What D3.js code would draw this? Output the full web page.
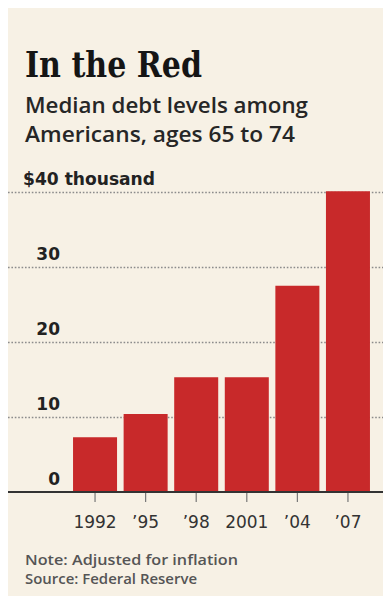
<!DOCTYPE html>
<html>
<head>
<meta charset="utf-8">
<script src="https://cdn.jsdelivr.net/npm/d3@7"></script>
<style>
  body { margin: 0; background: #fff; }
  svg { display: block; }
</style>
</head>
<body>
<div id="chart"></div>
<script>
// Data (thousands of dollars, median debt, ages 65-74)
const years = ["1992", "\u201995", "\u201998", "2001", "\u201904", "\u201907"];
const debt = [7.3, 10.4, 15.3, 15.3, 27.5, 40.1];
const yTicks = [0, 10, 20, 30, 40];
const yTickLabels = ["0", "10", "20", "30", "$40 thousand"];

const width = 383;
const height = 598;

const svg = d3.select("#chart")
    .append("svg")
    .attr("width", width)
    .attr("height", height);

// cream panel
svg.append("rect")
    .attr("x", 8).attr("y", 8)
    .attr("width", width - 8).attr("height", 588)
    .attr("fill", "#f7f1e5");

// fit a text element to a target width
function fit(sel, w) {
    sel.attr("textLength", w).attr("lengthAdjust", "spacingAndGlyphs");
    return sel;
}

// Title + subtitle
fit(svg.append("text")
    .attr("x", 25).attr("y", 77)
    .attr("font-family", "DejaVu Serif")
    .attr("font-weight", "bold")
    .attr("font-size", 35)
    .attr("fill", "#151515")
    .text("In the Red"), 177);

const subtitle = ["Median debt levels among", "Americans, ages 65 to 74"];
const subW = [283, 270];
subtitle.forEach((s, i) => {
    fit(svg.append("text")
        .attr("x", 25).attr("y", 113 + i * 29)
        .attr("font-family", "Open Sans")
        .attr("font-weight", 600)
        .attr("font-size", 21)
        .attr("fill", "#262626")
        .text(s), subW[i]);
});

// Scales
const x = d3.scaleBand()
    .domain(years)
    .range([69.75, 373.25])
    .paddingInner(0.13)
    .paddingOuter(0.065);

const y = d3.scaleLinear()
    .domain([0, 40])
    .range([492, 192]);

// Gridlines (dotted)
const grid = svg.append("g")
    .attr("transform", "translate(8,0)")
    .call(d3.axisRight(y).tickValues(yTicks.filter(d => d > 0)).tickSize(width - 8).tickFormat(""));
grid.select(".domain").remove();
grid.selectAll(".tick line")
    .attr("stroke", "#8c8c8c")
    .attr("stroke-width", 1.6)
    .attr("stroke-dasharray", "1.6,1.8");

// Y labels
svg.append("g").selectAll("text")
    .data(yTicks)
    .enter()
    .append("text")
    .attr("x", d => d === 40 ? 23 : 60)
    .attr("y", d => y(d) - 7)
    .attr("text-anchor", d => d === 40 ? "start" : "end")
    .attr("font-family", "DejaVu Sans")
    .attr("font-weight", "bold")
    .attr("font-size", 17)
    .attr("fill", "#222")
    .text((d, i) => yTickLabels[i])
    .each(function(d) { if (d === 40) fit(d3.select(this), 132); });

// Bars
svg.append("g").selectAll("rect")
    .data(debt)
    .enter()
    .append("rect")
    .attr("x", (d, i) => x(years[i]))
    .attr("y", d => y(d))
    .attr("width", x.bandwidth())
    .attr("height", d => y(0) - y(d))
    .attr("fill", "#c8292a");

// X axis
const xAxis = svg.append("g")
    .attr("transform", `translate(0,${y(0)})`)
    .call(d3.axisBottom(x).tickSize(10).tickPadding(14));
xAxis.select(".domain").remove();
xAxis.selectAll(".tick line")
    .attr("stroke", "#777")
    .attr("stroke-width", 1.2);
xAxis.selectAll(".tick text")
    .attr("font-family", "DejaVu Sans")
    .attr("font-size", 17)
    .attr("fill", "#333");

// baseline
svg.append("line")
    .attr("x1", 8).attr("x2", width)
    .attr("y1", y(0)).attr("y2", y(0))
    .attr("stroke", "#333")
    .attr("stroke-width", 2);

// Footnotes
const notes = ["Note: Adjusted for inflation", "Source: Federal Reserve"];
const noteW = [213, 172];
notes.forEach((s, i) => {
    fit(svg.append("text")
        .attr("x", 25).attr("y", 565 + i * 19)
        .attr("font-family", "Open Sans")
        .attr("font-weight", 600)
        .attr("font-size", 14)
        .attr("fill", "#555")
        .text(s), noteW[i]);
});
</script>
</body>
</html>
